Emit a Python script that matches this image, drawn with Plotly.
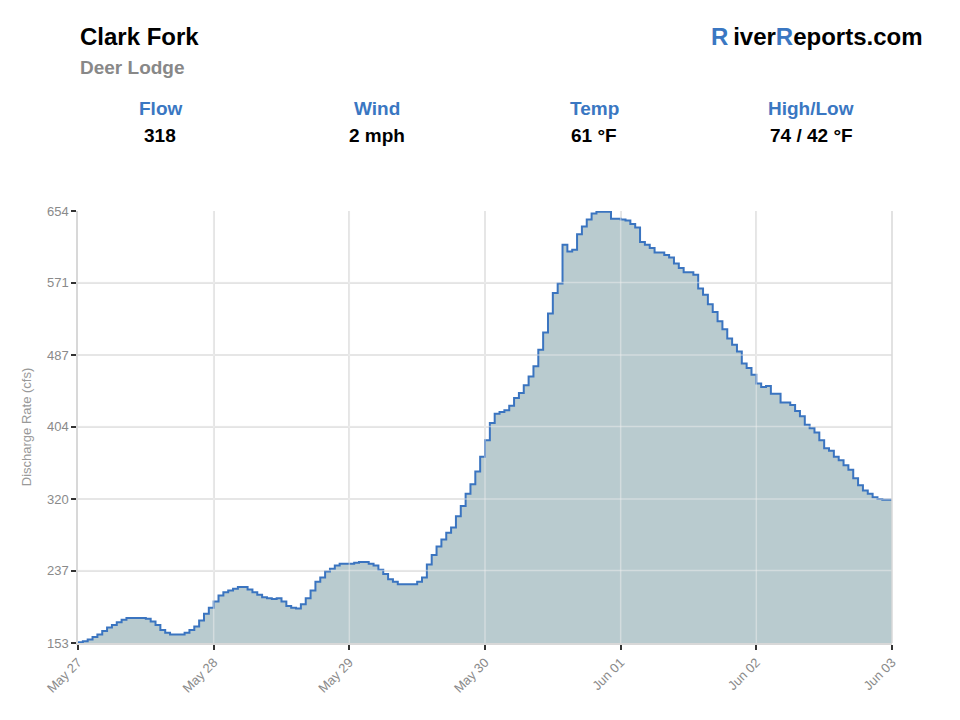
import pandas as pd
import plotly.graph_objects as go

# Hourly discharge (cfs), starting May 27 00:00
start_time = "2024-05-27 00:00"
discharge_cfs = [
    154, 155, 157, 160, 163, 167, 171, 174, 177, 180, 182, 182, 182, 182, 181, 178, 174, 168, 165, 163,
    163, 163, 165, 168, 172, 179, 187, 194,
    201, 208, 212, 214, 216, 218, 218, 215, 212, 209, 206, 205, 204, 205, 201, 196, 194, 193, 198, 205,
    214, 224, 229, 236, 239, 243, 245, 245,
    245, 246, 247, 247, 245, 243, 238, 233, 227, 224, 221, 221, 221, 221, 224, 229, 244, 255, 265, 273,
    281, 287, 300, 312, 326, 337, 352, 369,
    388, 408, 419, 421, 423, 428, 437, 443, 452, 462, 474, 493, 513, 535, 559, 570, 615, 607, 609, 627,
    636, 644, 651, 653, 653, 653, 645, 645,
    644, 643, 639, 635, 618, 615, 611, 606, 606, 603, 600, 593, 588, 583, 583, 580, 564, 557, 546, 537,
    526, 517, 506, 499, 491, 477, 472, 464,
    454, 450, 451, 442, 442, 432, 432, 429, 422, 416, 406, 402, 397, 388, 379, 376, 369, 365, 359, 354,
    344, 336, 330, 326, 322, 320, 319, 319, 318,
]
times = pd.date_range(start_time, periods=len(discharge_cfs), freq="h")

y_ticks = [153, 237, 320, 404, 487, 571, 654]
x_tick_labels = ["May 27", "May 28", "May 29", "May 30", "Jun 01", "Jun 02", "Jun 03"]
x_tick_times = pd.date_range(times[0], times[-1], periods=len(x_tick_labels))

site_name = "Clark Fork"
site_sub = "Deer Lodge"
stat_labels = ["Flow", "Wind", "Temp", "High/Low"]
stat_values = ["318", "2 mph", "61 °F", "74 / 42 °F"]

BLUE = "#3a77c2"
FONT = "Liberation Sans, Arial, Helvetica, sans-serif"
GRID = "#e3e3e3"
GRID_OVER = "rgba(238,238,238,0.5)"

fig = go.Figure()
fig.add_trace(go.Scatter(
    x=times, y=discharge_cfs, mode="lines", line_shape="hv",
    line=dict(color="#3a74c0", width=2),
    fill="tozeroy", fillcolor="#b9cbcf",
    hoverinfo="x+y", showlegend=False,
))

fig.update_layout(
    width=960, height=720,
    margin=dict(l=78, r=68, t=211, b=77),
    paper_bgcolor="white", plot_bgcolor="white",
    font=dict(family=FONT, color="#888888", size=12),
    xaxis=dict(
        range=[times[0], times[-1]],
        tickvals=list(x_tick_times), ticktext=x_tick_labels,
        tickangle=-45, showgrid=True, gridcolor=GRID, gridwidth=1.5,
        ticks="outside", ticklen=5, tickcolor="#333333", tickwidth=1.5,
        showline=True, linecolor="#d8d8d8", linewidth=1.5,
        tickfont=dict(size=13, color="#8a8a8a"), zeroline=False,
    ),
    yaxis=dict(
        range=[153, 654], tickvals=y_ticks, ticktext=[str(v) for v in y_ticks],
        showgrid=True, gridcolor=GRID, gridwidth=1.5,
        ticks="outside", ticklen=5, tickcolor="#333333", tickwidth=1.5,
        showline=True, linecolor="#d8d8d8", linewidth=1.5, mirror=False,
        tickfont=dict(size=13, color="#8a8a8a"), zeroline=False,
        title=dict(text="Discharge Rate (cfs)", font=dict(size=13, color="#999999"), standoff=12),
    ),
)

# faint grid lines drawn over the filled area
for t in x_tick_times[1:-1]:
    fig.add_shape(type="line", xref="x", yref="paper", x0=t, x1=t, y0=0, y1=1,
                  layer="above", line=dict(color=GRID_OVER, width=1.5))
for v in y_ticks[1:-1]:
    fig.add_shape(type="line", xref="paper", yref="y", x0=0, x1=1, y0=v, y1=v,
                  layer="above", line=dict(color=GRID_OVER, width=1.5))

# right border line of plot area
fig.add_shape(type="line", xref="paper", yref="paper", x0=1, x1=1, y0=0, y1=1,
              line=dict(color="#d8d8d8", width=1.5))


def px_to_paper(px, py):
    return (px - 78) / 814, (643 - py) / 432


anns = []
x0, y0 = px_to_paper(78, 36)
anns.append(dict(x=x0, y=y0, text=f"<b>{site_name}</b>", xanchor="left", yanchor="middle",
                 font=dict(size=24, color="#000000")))
x0, y0 = px_to_paper(78, 67)
anns.append(dict(x=x0, y=y0, text=f"<b>{site_sub}</b>", xanchor="left", yanchor="middle",
                 font=dict(size=19, color="#888888")))
x0, y0 = px_to_paper(925, 36)
anns.append(dict(x=x0, y=y0,
                 text=f"<b><span style='color:{BLUE}'>R</span>\u2009iver<span style='color:{BLUE}'>R</span>eports.com</b>",
                 xanchor="right", yanchor="middle", font=dict(size=24, color="#000000")))
for cx, lab, val in zip([160, 377, 594, 811], stat_labels, stat_values):
    x0, y0 = px_to_paper(cx, 108)
    anns.append(dict(x=x0, y=y0, text=f"<b>{lab}</b>", xanchor="center", yanchor="middle",
                     font=dict(size=19, color=BLUE)))
    x0, y0 = px_to_paper(cx, 136)
    anns.append(dict(x=x0, y=y0, text=f"<b>{val}</b>", xanchor="center", yanchor="middle",
                     font=dict(size=19, color="#000000")))
for a in anns:
    a.update(xref="paper", yref="paper", showarrow=False)
fig.update_layout(annotations=anns)

fig.write_html("out.html")
